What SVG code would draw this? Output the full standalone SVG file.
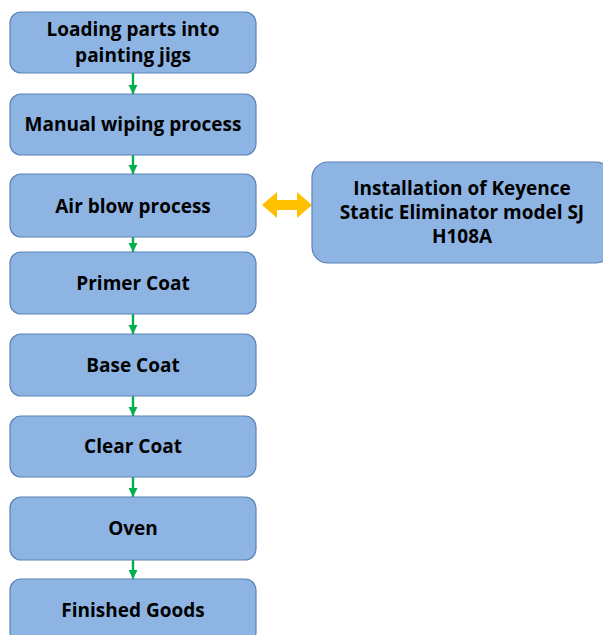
<svg xmlns="http://www.w3.org/2000/svg" width="603" height="635" viewBox="0 0 603 635">
  <style>
    .box { fill: #8DB4E2; stroke: #5B82B5; stroke-width: 1.2; }
    .lbl { font-family: "Open Sans", "Liberation Sans", sans-serif; font-weight: bold; font-size: 19px; fill: #000; text-anchor: middle; }
    .flow { stroke: #00B050; stroke-width: 2.4; fill: none; marker-end: url(#greenHead); }
  </style>
  <defs>
    <marker id="greenHead" viewBox="0 0 10 10" refX="10" refY="5" markerWidth="9" markerHeight="10" markerUnits="userSpaceOnUse" orient="auto">
      <path d="M0,0 L10,5 L0,10 Z" fill="#00B050"/>
    </marker>
  </defs>
  <rect width="603" height="635" fill="#ffffff"/>

  <g id="connectors">
    <line class="flow" x1="133" y1="73" x2="133" y2="94"/>
    <line class="flow" x1="133" y1="155" x2="133" y2="174"/>
    <line class="flow" x1="133" y1="237" x2="133" y2="252"/>
    <line class="flow" x1="133" y1="314" x2="133" y2="334"/>
    <line class="flow" x1="133" y1="396" x2="133" y2="416"/>
    <line class="flow" x1="133" y1="477" x2="133" y2="497"/>
    <line class="flow" x1="133" y1="560" x2="133" y2="579"/>
    <!-- two-way link between the air blow step and the static eliminator -->
    <path id="link-airblow-eliminator" d="M262,205 L277,192 L277,200 L297,200 L297,192 L312,205 L297,218 L297,210 L277,210 L277,218 Z" fill="#FFC000"/>
  </g>

  <g id="loading">
    <rect class="box" x="10" y="12" width="246" height="61" rx="11"/>
    <text class="lbl" x="133" y="36">Loading parts into</text>
    <text class="lbl" x="133" y="62">painting jigs</text>
  </g>
  <g id="wiping">
    <rect class="box" x="10" y="94" width="246" height="61" rx="11"/>
    <text class="lbl" x="133" y="131">Manual wiping process</text>
  </g>
  <g id="airblow">
    <rect class="box" x="10" y="174" width="246" height="63" rx="11"/>
    <text class="lbl" x="133" y="213">Air blow process</text>
  </g>
  <g id="primer">
    <rect class="box" x="10" y="252" width="246" height="62" rx="11"/>
    <text class="lbl" x="133" y="290">Primer Coat</text>
  </g>
  <g id="base">
    <rect class="box" x="10" y="334" width="246" height="62" rx="11"/>
    <text class="lbl" x="133" y="372">Base Coat</text>
  </g>
  <g id="clear">
    <rect class="box" x="10" y="416" width="246" height="61" rx="11"/>
    <text class="lbl" x="133" y="453">Clear Coat</text>
  </g>
  <g id="oven">
    <rect class="box" x="10" y="497" width="246" height="63" rx="11"/>
    <text class="lbl" x="133" y="535">Oven</text>
  </g>
  <g id="finished">
    <rect class="box" x="10" y="579" width="246" height="64" rx="11"/>
    <text class="lbl" x="133" y="617">Finished Goods</text>
  </g>
  <g id="eliminator">
    <rect class="box" x="312" y="162" width="300" height="101" rx="16"/>
    <text class="lbl" x="462" y="195">Installation of Keyence</text>
    <text class="lbl" x="462" y="219">Static Eliminator model SJ</text>
    <text class="lbl" x="462" y="243">H108A</text>
  </g>
</svg>
